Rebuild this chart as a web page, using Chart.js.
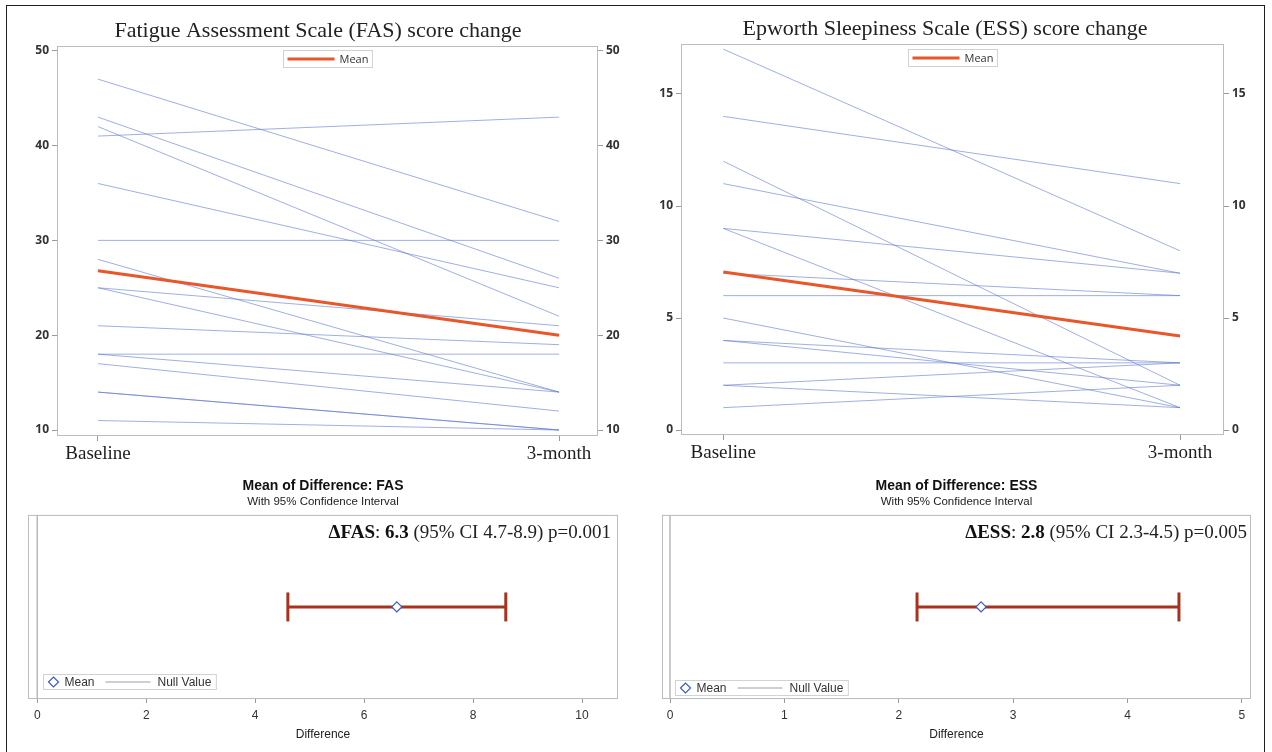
<!DOCTYPE html>
<html lang="en">
<head>
    <meta charset="UTF-8">
    <meta name="viewport" content="width=device-width, initial-scale=1.0">
    <title>FAS and ESS score change</title>
    <script src="https://cdn.jsdelivr.net/npm/chart.js"></script>
    <style>
        html, body { margin: 0; padding: 0; background: #fff; }
        #page { position: relative; width: 1272px; height: 752px; overflow: hidden; background: #fff; }
        #outline { position: absolute; left: 6px; top: 5px; width: 1257px; height: 780px; border: 1.5px solid #1e1e1e; }
        canvas { position: absolute; }
    </style>
</head>
<body>
<div id="page">
    <div id="outline"></div>
    <canvas id="fasChange" width="636" height="470" style="left:0;top:0"></canvas>
    <canvas id="essChange" width="618" height="470" style="left:636px;top:0"></canvas>
    <canvas id="fasDiff" width="644" height="282" style="left:0;top:470px"></canvas>
    <canvas id="essDiff" width="636" height="282" style="left:636px;top:470px"></canvas>
</div>

<script>
    const timePoints = ['Baseline', '3-month'];

    // one entry per subject
    const fasBaseline = [47, 43, 42, 41, 36, 30, 28, 25, 25, 21, 18, 18, 17, 14, 14, 11];
    const fasMonth3   = [32, 26, 22, 43, 25, 30, 14, 21, 14, 19, 18, 14, 12, 10, 10, 10];
    const fasMean     = [26.8, 20.0];
    const fasTicks    = [10, 20, 30, 40, 50];

    const essBaseline = [17, 14, 12, 11, 9, 9, 7, 6, 5, 4, 4, 3, 2, 2, 1];
    const essMonth3   = [8, 11, 2, 7, 7, 1, 6, 6, 1, 3, 2, 3, 3, 1, 2];
    const essMean     = [7.05, 4.2];
    const essTicks    = [0, 5, 10, 15];

    // mean of difference with 95% CI
    const fasDiffMean  = 6.6;
    const fasDiffCI    = [4.6, 8.6];
    const fasDiffTicks = [0, 2, 4, 6, 8, 10];
    const essDiffMean  = 2.72;
    const essDiffCI    = [2.16, 4.45];
    const essDiffTicks = [0, 1, 2, 3, 4, 5];
    const nullValue    = 0;

    const subjectColor = 'rgba(90, 118, 205, 0.58)';
    const meanColor = '#e8572a';
    const ciColor = '#a8321e';
    const diamondColor = '#3a5bc7';
    const nullColor = '#b4b8c0';
    const frameColor = '#b9bcc2';
    const tickColor = '#9a9a9a';

    Chart.defaults.font.family = 'Liberation Sans';

    // frame around the plot area, boxed legend and the text note
    const panelDecor = {
        id: 'panelDecor',
        afterDatasetsDraw(chart) {
            const {ctx, chartArea: a} = chart;
            ctx.save();
            ctx.strokeStyle = frameColor;
            ctx.lineWidth = 1;
            ctx.strokeRect(a.left + 0.5, a.top + 0.5, a.right - a.left - 1, a.bottom - a.top - 1);
            ctx.restore();
        },
        afterDraw(chart, args, opts) {
            const {ctx, chartArea: a} = chart;
            if (opts.legend) {
                const lg = opts.legend;
                ctx.save();
                ctx.font = lg.font;
                let w = lg.padL;
                lg.items.forEach(it => {
                    w += (it.before || 0) + it.markerW + it.gap + ctx.measureText(it.text).width;
                });
                w += lg.padR;
                let x0 = lg.anchor === 'top' ? (a.left + a.right) / 2 - w / 2 : a.left + lg.dx;
                let y0 = lg.anchor === 'top' ? a.top + lg.dy : a.bottom - lg.dy - lg.h;
                x0 = Math.round(x0) + 0.5;
                y0 = Math.round(y0) + 0.5;
                ctx.fillStyle = '#fff';
                ctx.fillRect(x0, y0, w, lg.h);
                ctx.strokeStyle = '#d0d2d6';
                ctx.lineWidth = 1;
                ctx.strokeRect(x0, y0, w, lg.h);
                const cy = y0 + lg.h / 2;
                let x = x0 + lg.padL;
                lg.items.forEach(it => {
                    x += it.before || 0;
                    if (it.marker === 'line') {
                        ctx.strokeStyle = it.color;
                        ctx.lineWidth = it.lineWidth;
                        ctx.beginPath();
                        ctx.moveTo(x, cy);
                        ctx.lineTo(x + it.markerW, cy);
                        ctx.stroke();
                    } else {
                        const r = it.markerW / 2;
                        ctx.strokeStyle = it.color;
                        ctx.lineWidth = 1.2;
                        ctx.beginPath();
                        ctx.moveTo(x, cy);
                        ctx.lineTo(x + r, cy - r);
                        ctx.lineTo(x + 2 * r, cy);
                        ctx.lineTo(x + r, cy + r);
                        ctx.closePath();
                        ctx.stroke();
                    }
                    x += it.markerW + it.gap;
                    ctx.fillStyle = '#333';
                    ctx.textBaseline = 'middle';
                    ctx.fillText(it.text, x, cy + 0.5);
                    x += ctx.measureText(it.text).width;
                });
                ctx.restore();
            }
            if (opts.note) {
                const n = opts.note;
                ctx.save();
                ctx.textBaseline = 'alphabetic';
                const fontOf = b => (b ? 'bold ' : '') + n.size + 'px "Liberation Serif"';
                let total = 0;
                n.parts.forEach(p => { ctx.font = fontOf(p[1]); total += ctx.measureText(p[0]).width; });
                let x = a.right - n.right - total;
                n.parts.forEach(p => {
                    ctx.font = fontOf(p[1]);
                    ctx.fillStyle = p[1] ? '#111' : '#222';
                    ctx.fillText(p[0], x, a.top + n.baseline);
                    x += ctx.measureText(p[0]).width;
                });
                ctx.restore();
            }
        }
    };

    const yTickFont = {family: 'Open Sans', size: 12, weight: 'bold'};

    function changeChart(id, o) {
        const datasets = [{
            label: 'Mean',
            data: o.mean.map((v, i) => ({x: i, y: v})),
            showLine: true, borderColor: meanColor, borderWidth: 3, pointRadius: 0, order: 0
        }];
        o.baseline.forEach((b, i) => {
            datasets.push({
                label: 'Subject ' + (i + 1),
                data: [{x: 0, y: b}, {x: 1, y: o.month3[i]}],
                showLine: true, borderColor: subjectColor, borderWidth: 1, pointRadius: 0, order: 1
            });
        });
        const yAxis = (pos, width) => ({
            position: pos,
            min: o.yMin, max: o.yMax,
            afterBuildTicks: s => { s.ticks = o.ticks.map(v => ({value: v})); },
            afterFit: s => { s.width = width; },
            grid: {drawOnChartArea: false, drawTicks: true, tickLength: 5, color: tickColor},
            border: {display: false},
            ticks: {font: yTickFont, color: '#333', padding: 3}
        });
        return new Chart(document.getElementById(id), {
            type: 'scatter',
            data: {datasets},
            options: {
                responsive: false,
                animation: false,
                events: [],
                plugins: {
                    legend: {display: false},
                    tooltip: {enabled: false},
                    title: {
                        display: true,
                        text: o.title,
                        font: {family: 'Liberation Serif', size: 22, weight: 'normal'},
                        color: '#222',
                        padding: {top: o.titleTop, bottom: 2}
                    },
                    panelDecor: {
                        legend: {
                            anchor: 'top', dy: o.legendDy, h: 17, padL: 4, padR: 4,
                            font: '11px "Open Sans"',
                            items: [{marker: 'line', color: meanColor, lineWidth: 3, markerW: 47, gap: 5, text: 'Mean'}]
                        }
                    }
                },
                scales: {
                    x: {
                        type: 'linear',
                        min: o.xMin, max: o.xMax,
                        afterBuildTicks: s => { s.ticks = timePoints.map((t, i) => ({value: i})); },
                        afterFit: s => { s.height = o.xHeight; },
                        grid: {drawOnChartArea: false, drawTicks: true, tickLength: 5, color: tickColor},
                        border: {display: false},
                        ticks: {
                            callback: v => timePoints[v],
                            font: {family: 'Liberation Serif', size: 19},
                            color: '#1e1e1e', padding: 2, maxRotation: 0, autoSkip: false
                        }
                    },
                    y: yAxis('left', o.leftW),
                    y2: yAxis('right', o.rightW)
                }
            },
            plugins: [panelDecor]
        });
    }

    function diffChart(id, o) {
        return new Chart(document.getElementById(id), {
            type: 'scatter',
            data: {
                datasets: [{
                    label: 'Mean',
                    data: [{x: o.mean, y: 0}],
                    pointStyle: 'rectRot', pointRadius: 5, pointBorderWidth: 1.2,
                    pointBorderColor: diamondColor, pointBackgroundColor: '#fff', order: 0
                }, {
                    label: '95% CI',
                    data: o.ci.map(v => ({x: v, y: 0})),
                    showLine: true, borderColor: ciColor, borderWidth: 3,
                    pointStyle: 'line', pointRotation: 90, pointRadius: 14.5,
                    pointBorderColor: ciColor, pointBorderWidth: 3, order: 1
                }, {
                    label: 'Null Value',
                    data: [{x: nullValue, y: -1}, {x: nullValue, y: 1}],
                    showLine: true, borderColor: nullColor, borderWidth: 1.5, pointRadius: 0, order: 2
                }]
            },
            options: {
                responsive: false,
                animation: false,
                events: [],
                layout: {padding: {left: o.padL, right: o.padR, top: 0, bottom: 0}},
                plugins: {
                    legend: {display: false},
                    tooltip: {enabled: false},
                    title: {
                        display: true,
                        text: o.title,
                        font: {size: 14, weight: 'bold'},
                        color: '#111',
                        padding: {top: 8, bottom: 0}
                    },
                    subtitle: {
                        display: true,
                        text: 'With 95% Confidence Interval',
                        font: {size: 11.5},
                        color: '#222',
                        padding: {top: 0.3, bottom: 6}
                    },
                    panelDecor: {
                        legend: {
                            anchor: 'bottom', dx: o.legendDx, dy: o.legendDy, h: 15, padL: 5, padR: 5,
                            font: '12px "Liberation Sans"',
                            items: [
                                {marker: 'diamond', color: diamondColor, markerW: 10, gap: 6, text: 'Mean'},
                                {marker: 'line', color: '#9aa0a8', lineWidth: 1, markerW: 45, gap: 7, text: 'Null Value', before: 11}
                            ]
                        },
                        note: {size: 19, right: o.noteRight, baseline: 23, parts: o.note}
                    }
                },
                scales: {
                    x: {
                        type: 'linear',
                        min: o.xMin, max: o.xMax,
                        afterBuildTicks: s => { s.ticks = o.ticks.map(v => ({value: v})); },
                        afterFit: s => { s.height = 53; },
                        grid: {drawOnChartArea: false, drawTicks: true, tickLength: 4, color: tickColor},
                        border: {display: false},
                        ticks: {font: {size: 12}, color: '#333', padding: 5},
                        title: {display: true, text: 'Difference', font: {size: 12}, color: '#222', padding: {top: 0, bottom: 10}}
                    },
                    y: {display: false, min: -1, max: 1}
                }
            },
            plugins: [panelDecor]
        });
    }

    changeChart('fasChange', {
        title: 'Fatigue Assessment Scale (FAS) score change',
        baseline: fasBaseline, month3: fasMonth3, mean: fasMean, ticks: fasTicks,
        yMin: 9.37, yMax: 50.5, xMin: -0.0889, xMax: 1.0845,
        leftW: 57, rightW: 38, xHeight: 34, titleTop: 17.6, legendDy: 4
    });

    changeChart('essChange', {
        title: 'Epworth Sleepiness Scale (ESS) score change',
        baseline: essBaseline, month3: essMonth3, mean: essMean, ticks: essTicks,
        yMin: -0.22, yMax: 17.23, xMin: -0.0926, xMax: 1.0963,
        leftW: 45, rightW: 30, xHeight: 35, titleTop: 15.6, legendDy: 5
    });

    diffChart('fasDiff', {
        title: 'Mean of Difference: FAS',
        mean: fasDiffMean, ci: fasDiffCI, ticks: fasDiffTicks,
        xMin: -0.17, xMax: 10.66, padL: 28, padR: 26,
        legendDx: 15, legendDy: 10, noteRight: 7,
        note: [['\u0394FAS', true], [': ', false], ['6.3', true], [' (95% CI 4.7-8.9) p=0.001', false]]
    });

    diffChart('essDiff', {
        title: 'Mean of Difference: ESS',
        mean: essDiffMean, ci: essDiffCI, ticks: essDiffTicks,
        xMin: -0.07, xMax: 5.08, padL: 26, padR: 21,
        legendDx: 13, legendDy: 4, noteRight: 4,
        note: [['\u0394ESS', true], [': ', false], ['2.8', true], [' (95% CI 2.3-4.5) p=0.005', false]]
    });
</script>
</body>
</html>
